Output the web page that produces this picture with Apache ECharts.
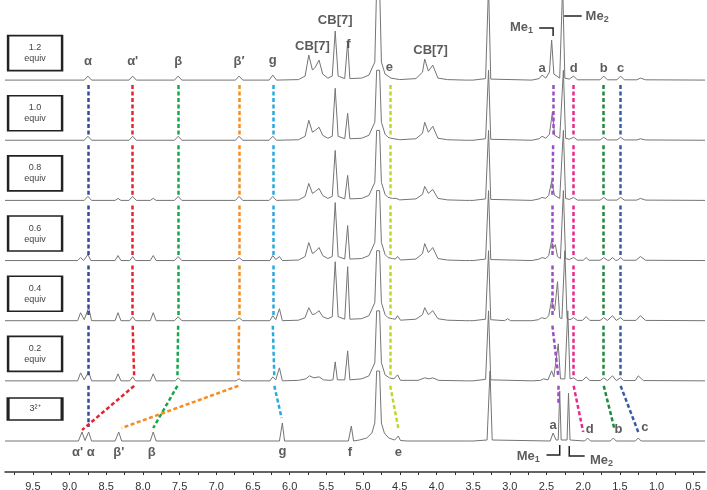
<!DOCTYPE html>
<html>
<head>
<meta charset="utf-8">
<script src="https://cdn.jsdelivr.net/npm/echarts@6/dist/echarts.min.js"></script>
<style>
  html, body { margin: 0; padding: 0; background: #fff; }
  #chart { width: 707px; height: 490px; }
</style>
</head>
<body>
<div id="chart"></div>
<script>
// ---- data: [ppm, intensity] ----
const spec12 = [[9.88,0],[8.80,0],[8.75,4],[8.70,0],[8.19,0],[8.14,4],[8.09,0],[7.57,0],[7.52,4],[7.47,0],[6.74,0],[6.69,4],[6.64,0],[6.28,0],[6.23,5],[6.18,0],
  [5.88,0.5],[5.79,4],[5.74,25],[5.69,10],[5.65,13],[5.60,20],[5.55,6],[5.48,2],[5.42,4],[5.38,49],[5.34,4],[5.25,1.5],[5.21,38],[5.18,1.5],
  [5.02,2],[4.92,5],[4.84,18],[4.815,95],[4.775,95],[4.75,18],[4.70,6],[4.66,4],[4.62,2],[4.50,0.5],[4.28,1.5],[4.19,8],[4.16,21],[4.11,9],[4.05,15],[3.98,2],[3.85,0.5],
  [3.60,0],[3.58,2],[3.55,0],[3.53,2],[3.50,0],[3.33,1.5],[3.29,95],[3.26,1],[2.70,0],[2.60,1.5],[2.56,5],[2.51,2],[2.46,8],[2.43,40],[2.40,6],[2.32,2],[2.28,95],[2.25,2],[2.19,1],[2.13,4],[2.08,0.3],
  [1.77,0.3],[1.72,4],[1.67,0.3],[1.54,0.3],[1.49,4],[1.44,0.3],[1.27,0.3],[1.22,2],[1.15,0.3],[0.34,0]];
const spec10 = [[9.88,0],[8.80,0],[8.75,4],[8.70,0],[8.19,0],[8.14,4],[8.09,0],[7.57,0],[7.52,4],[7.47,0],[6.74,0],[6.69,4],[6.64,0],[6.28,0],[6.23,4],[6.18,0],
  [5.88,0.5],[5.79,4],[5.74,20],[5.69,8],[5.65,10],[5.60,13],[5.55,5],[5.48,2],[5.42,4],[5.38,52],[5.34,4],[5.25,1.5],[5.21,27],[5.18,1.5],
  [5.02,2],[4.92,5],[4.84,18],[4.815,70],[4.775,70],[4.75,18],[4.70,6],[4.66,3],[4.62,2],[4.50,0.5],[4.28,1.5],[4.19,7],[4.16,18],[4.11,8],[4.05,14],[3.98,2],[3.85,0.5],
  [3.60,0],[3.58,2],[3.55,0],[3.53,2],[3.50,0],[3.33,1.5],[3.29,70],[3.26,1],[2.70,0],[2.60,1.5],[2.56,4],[2.51,2],[2.46,6],[2.42,28],[2.39,5],[2.32,2],[2.27,70],[2.24,2],[2.19,1],[2.13,3],[2.08,0.3],
  [1.77,0.3],[1.72,3],[1.67,0.3],[1.54,0.3],[1.49,3],[1.44,0.3],[1.27,0.3],[1.22,1.5],[1.15,0.3],[0.34,0]];
const spec08 = [[9.88,0],[8.80,0],[8.75,4],[8.70,0],[8.38,0],[8.34,2],[8.30,0],[8.19,0],[8.14,4],[8.09,0],[7.90,0],[7.86,2],[7.82,0],[7.57,0],[7.52,4],[7.47,0],[6.74,0],[6.69,4],[6.64,0],[6.28,0],[6.23,4],[6.18,0],
  [5.88,0.5],[5.79,4],[5.74,17],[5.69,7],[5.65,9],[5.60,12],[5.55,5],[5.48,2],[5.42,4],[5.38,50],[5.34,4],[5.25,1.5],[5.21,25],[5.18,1.5],
  [5.02,2],[4.92,5],[4.84,18],[4.815,70],[4.775,70],[4.75,18],[4.70,6],[4.66,3],[4.60,2],[4.55,2],[4.53,3],[4.50,0.5],[4.28,1.5],[4.19,6],[4.16,14],[4.11,7],[4.05,11],[3.98,2],[3.85,0.5],
  [3.60,0],[3.58,2],[3.55,0],[3.53,2],[3.50,0],[3.33,1.5],[3.29,70],[3.26,1],[2.70,0],[2.60,1.5],[2.56,3],[2.51,2],[2.47,5],[2.43,19],[2.39,5],[2.32,2],[2.27,70],[2.24,2],[2.19,1],[2.13,3],[2.08,0.3],
  [1.77,0.3],[1.72,3],[1.67,0.3],[1.54,0.3],[1.49,3],[1.44,0.3],[1.27,0.3],[1.22,2],[1.15,0.3],[0.34,0]];
const spec06 = [[9.88,0],[8.89,0],[8.85,3],[8.81,0],[8.79,0],[8.75,6],[8.71,0],[8.38,0],[8.34,5],[8.30,0],[8.18,0],[8.14,4],[8.10,0],[7.90,0],[7.86,5],[7.82,0],[7.57,0],[7.52,4],[7.47,0],[6.74,0],[6.69,3],[6.64,0],[6.27,0],[6.23,5],[6.19,1],[6.14,4],[6.10,0],
  [5.88,0.5],[5.79,4],[5.74,18],[5.69,7],[5.65,9],[5.60,13],[5.55,5],[5.48,2],[5.42,4],[5.38,58],[5.34,4],[5.25,1.5],[5.21,35],[5.18,1.5],
  [5.02,2],[4.92,5],[4.84,18],[4.815,70],[4.775,70],[4.75,18],[4.70,6],[4.66,3],[4.60,2],[4.56,1.5],[4.53,4],[4.49,0.5],[4.28,1.5],[4.19,7],[4.16,17],[4.11,8],[4.05,13],[3.98,2],[3.85,0.5],
  [3.60,0],[3.58,2],[3.55,0],[3.53,2],[3.50,0],[3.33,1.5],[3.29,70],[3.26,1],[2.70,0],[2.60,1.5],[2.56,3],[2.51,2],[2.47,5],[2.43,20],[2.41,12],[2.38,16],[2.35,4],[2.31,2],[2.27,70],[2.24,2],[2.19,1],[2.13,3],[2.08,0.3],
  [2.00,0.3],[1.96,3],[1.92,0.3],[1.77,0.3],[1.72,3],[1.67,0.3],[1.64,0.3],[1.60,3],[1.56,0.3],[1.53,0.3],[1.49,3],[1.45,0.3],[1.28,0.3],[1.22,4],[1.15,0.3],[0.34,0]];
const spec04 = [[9.88,0],[8.89,0],[8.85,8],[8.80,1],[8.74,13],[8.70,0],[8.38,0],[8.34,8],[8.30,0],[8.18,0],[8.14,4],[8.10,0],[7.90,0],[7.86,8],[7.82,0],[7.57,0],[7.52,4],[7.47,0],[6.74,0],[6.69,3],[6.64,0],[6.27,0],[6.23,5],[6.19,1],[6.14,12],[6.10,0],
  [5.88,0.5],[5.79,3],[5.74,13],[5.69,6],[5.65,7],[5.60,10],[5.55,4],[5.48,2],[5.42,4],[5.38,59],[5.34,4],[5.25,1.5],[5.21,54],[5.18,1.5],
  [5.02,2],[4.92,5],[4.84,18],[4.815,70],[4.775,70],[4.75,18],[4.70,6],[4.66,3],[4.60,2],[4.56,1.5],[4.53,5],[4.49,0.5],[4.28,1.5],[4.19,6],[4.16,13],[4.11,6],[4.05,10],[3.98,2],[3.85,0.5],
  [3.60,0],[3.58,2],[3.55,0],[3.53,2],[3.50,0],[3.33,1.5],[3.29,70],[3.26,1],[3.07,0],[3.03,2],[2.99,0],[2.70,0],[2.61,1],[2.57,3],[2.51,2],[2.47,5],[2.43,21],[2.39,10],[2.35,39],[2.32,3],[2.29,2],[2.25,70],[2.22,2],[2.18,1],[2.13,3],[2.08,0.3],
  [2.01,0.3],[1.96,4],[1.91,0.3],[1.77,0.3],[1.72,3],[1.67,0.3],[1.65,0.3],[1.60,5],[1.55,0.3],[1.53,0.3],[1.49,3],[1.45,0.3],[1.28,0.3],[1.22,5],[1.15,0.3],[0.34,0]];
const spec02 = [[9.88,0],[8.89,0],[8.85,8],[8.80,1],[8.74,9],[8.70,0],[8.38,0],[8.34,7],[8.30,0],[8.18,0],[8.14,4],[8.10,0],[7.90,0],[7.86,7],[7.82,0],[7.56,0],[7.52,3],[7.48,0],[6.73,0],[6.69,2],[6.65,0],[6.27,0],[6.23,4],[6.19,1],[6.14,13],[6.10,0],
  [5.88,0.5],[5.78,2],[5.73,5],[5.67,3],[5.60,4],[5.54,1],[5.45,0.5],[5.41,1],[5.38,19],[5.35,1],[5.25,1],[5.21,30],[5.18,1],
  [5.02,2],[4.92,5],[4.84,18],[4.815,70],[4.775,70],[4.75,18],[4.70,6],[4.64,3],[4.58,2],[4.56,1.5],[4.53,6],[4.49,0.5],[4.25,0.5],[4.16,3],[4.10,2],[4.05,3],[3.97,0.5],
  [3.60,0],[3.58,1.5],[3.55,0],[3.53,1.5],[3.50,0],[3.33,1.5],[3.29,70],[3.26,1],[2.70,0],[2.58,0.5],[2.54,2],[2.48,1],[2.43,10],[2.40,4],[2.34,37],[2.31,2],[2.25,2],[2.21,70],[2.18,2],[2.13,3],[2.08,0.3],
  [2.01,0.3],[1.96,4],[1.91,0.3],[1.77,0.3],[1.72,3],[1.67,0.3],[1.65,0.3],[1.60,5],[1.55,0.3],[1.53,0.3],[1.49,3],[1.45,0.3],[1.29,0.3],[1.25,5],[1.18,0.3],[0.34,0]];
const spec00 = [[9.88,0],[8.88,0],[8.83,9],[8.79,0.5],[8.74,9],[8.70,0],[8.38,0],[8.33,9],[8.29,0],[7.90,0],[7.86,9],[7.82,0],[6.14,0],[6.10,18],[6.07,0],[5.20,0],[5.16,15],[5.13,0],
  [5.05,1],[4.95,3],[4.88,8],[4.84,18],[4.815,70],[4.775,70],[4.75,18],[4.71,8],[4.65,3],[4.57,1],[4.55,1],[4.52,5],[4.49,0.5],[4.40,0],
  [3.60,0],[3.58,1],[3.55,0],[3.53,1],[3.50,0],[3.31,1],[3.27,70],[3.24,1],[2.45,0],[2.41,8],[2.37,1],[2.34,1],[2.32,50],[2.30,1],[2.22,1],[2.20,48],[2.18,1],
  [1.98,0],[1.94,3],[1.90,0],[1.63,0],[1.59,3],[1.55,0],[1.29,0],[1.25,3],[1.21,0],[0.34,0]];

// bottom to top
const spectra = [spec00, spec02, spec04, spec06, spec08, spec10, spec12];
const spectrumLabels = ['3²⁺', '0.2\nequiv', '0.4\nequiv', '0.6\nequiv', '0.8\nequiv', '1.0\nequiv', '1.2\nequiv'];

// peak tracks: ppm at 1.2, 1.0, 0.8, 0.6, 0.4, 0.2 equiv and free guest
const trackAlpha  = [8.75, 8.75, 8.75, 8.75, 8.75, 8.75, 8.75];
const trackAlphaP = [8.14, 8.14, 8.14, 8.14, 8.14, 8.12, 8.83];
const trackBeta   = [7.52, 7.52, 7.52, 7.52, 7.52, 7.53, 7.86];
const trackBetaP  = [6.69, 6.69, 6.69, 6.69, 6.69, 6.70, 8.29];
const trackG      = [6.23, 6.23, 6.23, 6.23, 6.23, 6.21, 6.11];
const trackE      = [4.63, 4.63, 4.63, 4.63, 4.63, 4.63, 4.52];
const trackMe1    = [2.41, 2.41, 2.42, 2.42, 2.42, 2.34, 2.34];
const trackD      = [2.13, 2.13, 2.13, 2.13, 2.13, 2.13, 2.00];
const trackB      = [1.72, 1.72, 1.72, 1.72, 1.72, 1.72, 1.57];
const trackC      = [1.49, 1.49, 1.49, 1.49, 1.49, 1.49, 1.25];

const tickValues = [9.75, 9.5, 9.25, 9.0, 8.75, 8.5, 8.25, 8.0, 7.75, 7.5, 7.25, 7.0, 6.75, 6.5, 6.25, 6.0, 5.75, 5.5, 5.25, 5.0,
  4.75, 4.5, 4.25, 4.0, 3.75, 3.5, 3.25, 3.0, 2.75, 2.5, 2.25, 2.0, 1.75, 1.5, 1.25, 1.0, 0.75, 0.5];
const labelValues = [9.5, 9.0, 8.5, 8.0, 7.5, 7.0, 6.5, 6.0, 5.5, 5.0, 4.5, 4.0, 3.5, 3.0, 2.5, 2.0, 1.5, 1.0, 0.5];

// ---- layout ----
const base = k => 31 + 60.15 * k;   // baseline of each stacked trace
const font = 'Liberation Sans, Arial, sans-serif';
const chart = echarts.init(document.getElementById('chart'));

const series = [];

spectra.forEach((s, k) => {
  series.push({
    type: 'line', showSymbol: false, z: 2, animation: false,
    lineStyle: { color: '#747474', width: 1 },
    data: s.map(p => [p[0], p[1] + base(k)])
  });
});

const tracks = [
  { v: trackAlpha,  color: '#35499a', end: 14 },
  { v: trackAlphaP, color: '#e4252f', end: 11 },
  { v: trackBeta,   color: '#14a84b', end: 13 },
  { v: trackBetaP,  color: '#f68c1f', end: 13 },
  { v: trackG,      color: '#2aa9e0', end: 23 },
  { v: trackE,      color: '#c2d62e', end: 13 },
  { v: trackMe1,    color: '#9a4dc6', end: 38 },
  { v: trackD,      color: '#e8288f', end: 9 },
  { v: trackB,      color: '#1f8a3c', end: 11 },
  { v: trackC,      color: '#365ba3', end: 9 }
];
tracks.forEach(t => {
  const segs = [];
  for (let i = 0; i < 6; i++) {
    const up = 6 - i, lo = 5 - i;
    const y2 = lo === 0 ? base(0) + t.end : base(lo) + 5;
    segs.push({ coords: [[t.v[i], base(up) - 5], [t.v[i + 1], y2]] });
  }
  series.push({
    type: 'lines', coordinateSystem: 'cartesian2d', z: 3, animation: false,
    lineStyle: { color: t.color, width: 2.5, type: [4, 2.5], opacity: 1 },
    data: segs
  });
});

// Me brackets
series.push({
  type: 'lines', coordinateSystem: 'cartesian2d', polyline: true, z: 4, animation: false,
  lineStyle: { color: '#222', width: 1.5, opacity: 1 },
  data: [
    { coords: [[2.60, 444], [2.41, 444], [2.41, 436]] },
    { coords: [[2.26, 456], [2.02, 456]] },
    { coords: [[2.50, 17], [2.32, 17], [2.32, 27]] },
    { coords: [[2.19, 26], [2.19, 16], [1.98, 16]] }
  ]
});

// peak labels
const rich = { s: { fontSize: 9, fontWeight: 'bold', color: '#333', fontFamily: font, padding: [7, 0, 0, 0] } };
const lab = (t, x, y) => ({ value: [x, y], label: { formatter: t } });
series.push({
  type: 'scatter', symbolSize: 1, z: 6, animation: false, silent: true,
  itemStyle: { color: 'rgba(0,0,0,0)' },
  label: { show: true, position: 'inside', color: '#333', fontSize: 13, fontWeight: 'bold', fontFamily: font, rich: rich },
  data: [
    lab('α', 8.75, 411), lab("α'", 8.14, 411), lab('β', 7.52, 411), lab('β′', 6.69, 411), lab('g', 6.23, 412),
    lab('CB[7]', 5.69, 426), lab('CB[7]', 5.38, 452), lab('f', 5.20, 428), lab('e', 4.64, 405), lab('CB[7]', 4.08, 422),
    lab('a', 2.56, 404), lab('d', 2.13, 404), lab('b', 1.72, 404), lab('c', 1.49, 404),
    lab('Me{s|1}', 2.84, 445), lab('Me{s|2}', 1.81, 456),
    lab("α'", 8.89, 20), lab('α', 8.71, 20), lab("β'", 8.33, 20), lab('β', 7.88, 20), lab('g', 6.10, 21),
    lab('f', 5.18, 20), lab('e', 4.52, 20),
    lab('a', 2.41, 47), lab('d', 1.91, 43), lab('b', 1.52, 43), lab('c', 1.16, 45),
    lab('Me{s|1}', 2.75, 16), lab('Me{s|2}', 1.75, 12)
  ]
});

// sample boxes
series.push({
  type: 'scatter', z: 6, animation: false, silent: true, symbol: 'rect',
  itemStyle: { color: '#fff', borderColor: '#222', borderWidth: 2, opacity: 1 },
  label: { show: true, position: 'inside', color: '#444', fontSize: 9, lineHeight: 11, fontFamily: font },
  data: spectrumLabels.map((t, k) => ({
    value: [9.47, base(k) + (k === 0 ? 32 : 27)],
    symbolSize: k === 0 ? [54, 22] : [54, 35],
    label: { formatter: t }
  }))
});

chart.setOption({
  animation: false,
  grid: { left: 5, right: 2, top: 0, bottom: 18, outerBoundsMode: 'none' },
  xAxis: {
    type: 'value', inverse: true, min: 0.34, max: 9.88,
    splitLine: { show: false },
    axisLine: { show: true, lineStyle: { color: '#333', width: 1.5 } },
    axisTick: { show: true, length: 3, customValues: tickValues, lineStyle: { color: '#333' } },
    axisLabel: { customValues: labelValues, margin: 9, color: '#333', fontSize: 11, fontFamily: font,
      formatter: v => v.toFixed(1) }
  },
  yAxis: { type: 'value', min: 0, max: 472, show: false },
  series: series
});
</script>
</body>
</html>
